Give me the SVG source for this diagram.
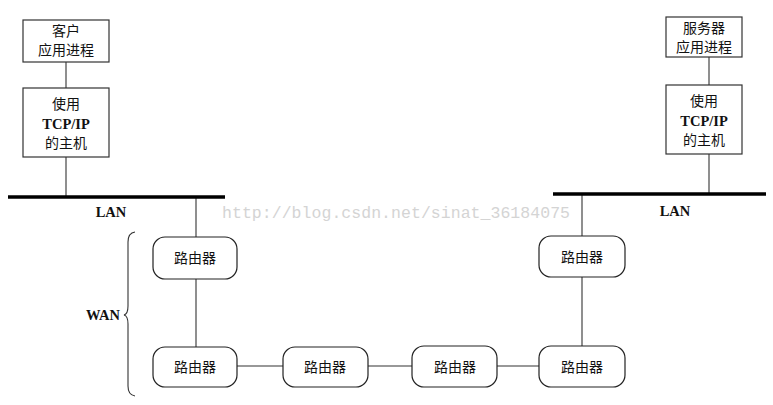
<svg xmlns="http://www.w3.org/2000/svg" width="773" height="405" viewBox="0 0 773 405">
<style>
.box{fill:#fff;stroke:#333;stroke-width:1.2}
.rt{fill:#fff;stroke:#222;stroke-width:1.2}
.ln{stroke:#333;stroke-width:1.1;fill:none}
.lan{stroke:#000;stroke-width:3.5}
.t{font-family:"Liberation Serif","Noto Sans CJK SC",serif;font-size:14px;fill:#111;text-anchor:middle}
.tb{font-family:"Liberation Serif","Noto Sans CJK SC",serif;font-size:14.5px;font-weight:bold;fill:#111;text-anchor:middle}
.wm{font-family:"Liberation Mono",monospace;font-size:16.5px;fill:#d4d4d4}
</style>
<rect width="773" height="405" fill="#fff"/>
<g id="connectors">
<line class="ln" x1="66" y1="62" x2="66" y2="88"/>
<line class="ln" x1="66" y1="157" x2="66" y2="197"/>
<line class="ln" x1="709" y1="57" x2="709" y2="85"/>
<line class="ln" x1="709" y1="154" x2="709" y2="194"/>
<line class="ln" x1="196" y1="197" x2="196" y2="237"/>
<line class="ln" x1="196" y1="279" x2="196" y2="347"/>
<line class="ln" x1="582" y1="194" x2="582" y2="236"/>
<line class="ln" x1="582" y1="277" x2="582" y2="346"/>
<line class="ln" x1="237" y1="366" x2="283" y2="366"/>
<line class="ln" x1="368" y1="366" x2="412" y2="366"/>
<line class="ln" x1="497" y1="366" x2="539" y2="366"/>
</g>
<g id="lan-left">
<line class="lan" x1="8" y1="197" x2="225" y2="197"/>
<text class="tb" x="111" y="217">LAN</text>
</g>
<g id="lan-right">
<line class="lan" x1="553" y1="194" x2="766" y2="194"/>
<text class="tb" x="675" y="216">LAN</text>
</g>
<g id="client-app">
<rect class="box" x="23" y="20" width="86" height="42"/>
<text class="t" x="66" y="36">客户</text>
<text class="t" x="66" y="55">应用进程</text>
</g>
<g id="client-host">
<rect class="box" x="23" y="88" width="86" height="69"/>
<text class="t" x="66" y="109">使用</text>
<text class="tb" x="66" y="129">TCP/IP</text>
<text class="t" x="66" y="148">的主机</text>
</g>
<g id="server-app">
<rect class="box" x="666" y="17" width="76" height="40"/>
<text class="t" x="704" y="33">服务器</text>
<text class="t" x="704" y="52">应用进程</text>
</g>
<g id="server-host">
<rect class="box" x="666" y="85" width="76" height="69"/>
<text class="t" x="704" y="106">使用</text>
<text class="tb" x="704" y="126">TCP/IP</text>
<text class="t" x="704" y="145">的主机</text>
</g>
<g id="router1">
<rect class="rt" x="153" y="237" width="84" height="42" rx="12"/>
<text class="t" x="195" y="263">路由器</text>
</g>
<g id="router2">
<rect class="rt" x="153" y="347" width="84" height="40" rx="12"/>
<text class="t" x="195" y="372">路由器</text>
</g>
<g id="router3">
<rect class="rt" x="283" y="347" width="85" height="40" rx="12"/>
<text class="t" x="325" y="372">路由器</text>
</g>
<g id="router4">
<rect class="rt" x="412" y="346" width="85" height="41" rx="12"/>
<text class="t" x="455" y="372">路由器</text>
</g>
<g id="router5">
<rect class="rt" x="539" y="346" width="86" height="41" rx="12"/>
<text class="t" x="582" y="372">路由器</text>
</g>
<g id="router6">
<rect class="rt" x="539" y="236" width="86" height="41" rx="12"/>
<text class="t" x="582" y="262">路由器</text>
</g>
<g id="wan">
<path class="ln" d="M135,232 Q128,233 128,242 L128,306 Q128,314 124,315 Q128,316 128,324 L128,386 Q128,395 135,396"/>
<text class="tb" x="103" y="320">WAN</text>
</g>
<text class="wm" x="222" y="218" textLength="348">http://blog.csdn.net/sinat_36184075</text>
</svg>
